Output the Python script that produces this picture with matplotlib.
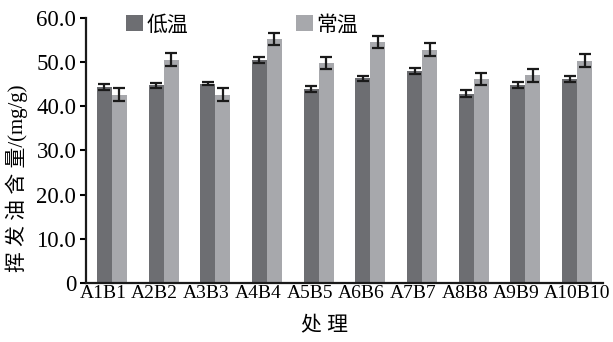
import matplotlib.pyplot as plt
import numpy as np
from matplotlib.ticker import FuncFormatter
from matplotlib.transforms import ScaledTranslation

SERIF = ['Liberation Serif', 'DejaVu Serif']
MIXED = ['Liberation Serif', 'Noto Sans CJK SC']
plt.rcParams['font.family'] = SERIF

# 各处理的挥发油含量 (mg/g)
treatments = ['A1B1', 'A2B2', 'A3B3', 'A4B4', 'A5B5',
              'A6B6', 'A7B7', 'A8B8', 'A9B9', 'A10B10']
low_temp = [44.5, 44.8, 45.2, 50.5, 44.0, 46.4, 48.0, 42.9, 44.8, 46.2]
low_temp_err = [0.7, 0.6, 0.45, 0.65, 0.7, 0.6, 0.75, 0.75, 0.7, 0.75]
room_temp = [42.7, 50.6, 42.7, 55.3, 49.9, 54.6, 52.9, 46.2, 47.1, 50.4]
room_temp_err = [1.5, 1.5, 1.5, 1.3, 1.4, 1.4, 1.4, 1.4, 1.5, 1.4]
series_names = ['低温', '常温']

x = np.arange(len(treatments))
w = 0.29

fig = plt.figure(figsize=(6.13, 3.42), dpi=100)
ax = fig.add_axes([0.1403, 0.1734, 0.9837 - 0.1403, 0.9465 - 0.1734])

err_kw = dict(ecolor='#1a1a1a', elinewidth=1.6, capsize=4, capthick=1.6)
ax.bar(x - w / 2, low_temp, w, yerr=low_temp_err, color='#6d6e72',
       label=series_names[0], error_kw=err_kw)
ax.bar(x + w / 2, room_temp, w, yerr=room_temp_err, color='#a7a8ac',
       label=series_names[1], error_kw=err_kw)

ax.set_xlim(-0.5, len(treatments) - 0.5)
ax.set_ylim(0, 60)
ax.set_yticks(np.arange(0, 61, 10))
ax.yaxis.set_major_formatter(FuncFormatter(lambda v, p: '0' if v == 0 else f'{v:.1f}'))
ax.set_xticks(x)
ax.set_xticklabels(treatments, fontsize=14, fontfamily=SERIF)
ax.tick_params(axis='x', length=0, pad=2)
ax.tick_params(axis='y', labelsize=16.5, length=4.5, width=1.5, pad=2.5)

# 横轴标签整体略向左排
for i, lbl in enumerate(ax.get_xticklabels()):
    if i < len(treatments) - 1:
        lbl.set_transform(lbl.get_transform() + ScaledTranslation(-0.09, 0, fig.dpi_scale_trans))

for s in ['top', 'right']:
    ax.spines[s].set_visible(False)
for s in ['left', 'bottom']:
    ax.spines[s].set_linewidth(1.6)
    ax.spines[s].set_color('#1a1a1a')

ax.set_ylabel('挥 发 油 含 量/(mg/g)', fontsize=15, family=MIXED)
ax.yaxis.set_label_coords(-0.112, 0.394)
ax.set_xlabel('处 理', fontsize=15, family=MIXED)
ax.xaxis.set_label_coords(0.462, -0.13)

ax.legend(loc='upper left', bbox_to_anchor=(0.042, 1.083), ncol=2,
          frameon=False, handlelength=0.8, handleheight=0.8,
          handletextpad=0.15, columnspacing=5.2,
          prop={'family': MIXED, 'size': 15})

fig.savefig('out.png', dpi=100)
